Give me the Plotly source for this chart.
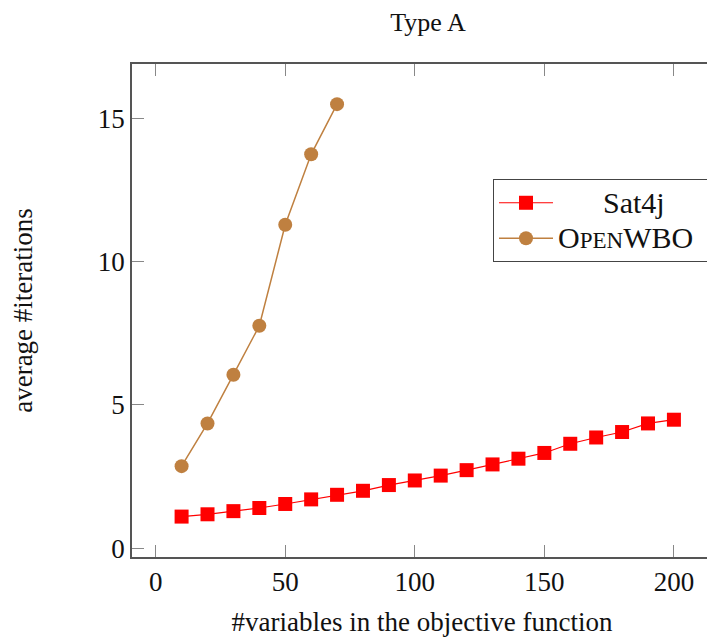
import plotly.graph_objects as go

sat4j_x = [10, 20, 30, 40, 50, 60, 70, 80, 90, 100, 110, 120, 130, 140, 150, 160, 170, 180, 190, 200]
sat4j_y = [1.1, 1.18, 1.29, 1.4, 1.54, 1.7, 1.86, 2.0, 2.2, 2.36, 2.53, 2.72, 2.92, 3.12, 3.32, 3.64, 3.86, 4.05, 4.35, 4.48]
owbo_x = [10, 20, 30, 40, 50, 60, 70]
owbo_y = [2.86, 4.35, 6.05, 7.76, 11.28, 13.74, 15.49]
x_ticks = [0, 50, 100, 150, 200]
y_ticks = [0, 5, 10, 15]

FONT = "Liberation Serif"
NB = "\u00a0"

fig = go.Figure()
fig.add_trace(go.Scatter(
    x=sat4j_x, y=sat4j_y, mode="lines+markers",
    name="<span style='font-size:30px'>" + NB * 6 + "Sat4j</span>",
    line=dict(color="#ff0000", width=1.2),
    marker=dict(symbol="square", size=14, color="#ff0000"),
))
fig.add_trace(go.Scatter(
    x=owbo_x, y=owbo_y, mode="lines+markers",
    name="<span style='font-size:30px'>O</span><span style='font-size:23px'>PEN</span>"
         "<span style='font-size:30px'>WBO" + NB * 2 + "</span>",
    line=dict(color="#bf8040", width=1.5),
    marker=dict(symbol="circle", size=14, color="#bf8040"),
))

axis_common = dict(
    showgrid=False, zeroline=False, showline=True, linecolor="#555555", linewidth=1.5,
    ticks="inside", ticklen=12, tickcolor="#888888", tickwidth=1.2,
    tickfont=dict(family=FONT, size=27, color="#111111"),
    automargin=False,
)

fig.update_layout(
    width=707, height=629,
    margin=dict(l=124, r=0, t=56, b=80),
    paper_bgcolor="white", plot_bgcolor="white",
    font=dict(family=FONT, color="#111111"),
    title=dict(text="Type A", x=0.594, xanchor="center", y=0.978, yanchor="middle",
               font=dict(family=FONT, size=26, color="#111111")),
    xaxis=dict(range=[-9.14, 214.7], tickvals=x_ticks, mirror="ticks",
               title=dict(text="#variables in the objective function", standoff=18,
                          font=dict(family=FONT, size=27, color="#111111")),
               **axis_common),
    yaxis=dict(range=[-0.31, 16.89], tickvals=y_ticks, mirror=False,
               title=dict(text="average #iterations", standoff=58,
                          font=dict(family=FONT, size=27, color="#111111")),
               **axis_common),
    legend=dict(x=0.6226, y=0.7667, xanchor="left", yanchor="top",
                bgcolor="white", bordercolor="#444444", borderwidth=1,
                font=dict(family=FONT, size=25, color="#111111"),
                itemwidth=54),
    showlegend=True,
)

fig.write_html("out.html")
